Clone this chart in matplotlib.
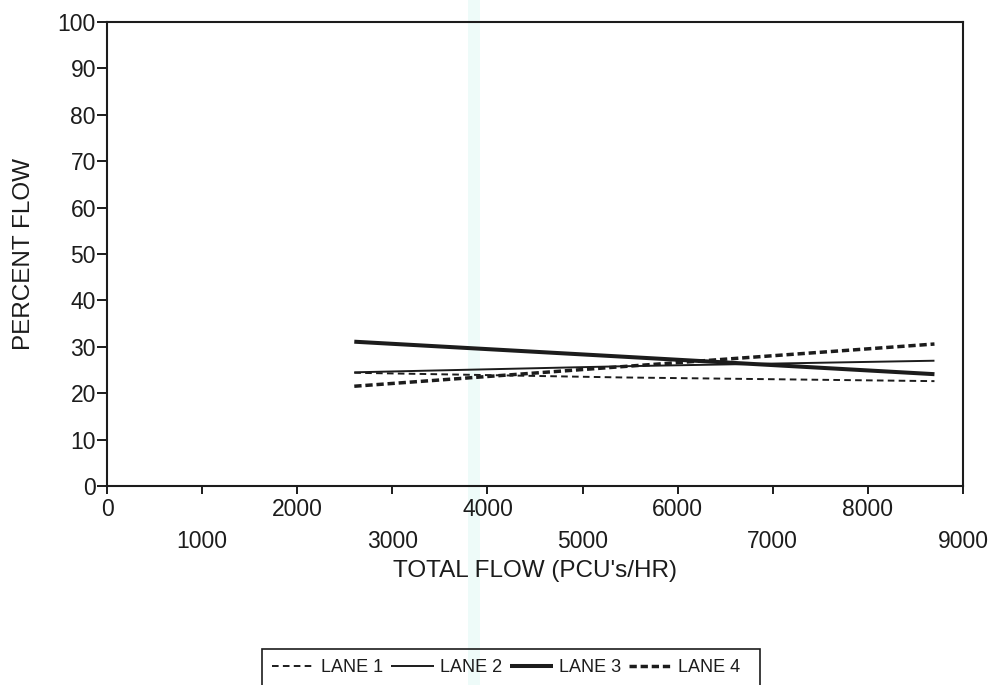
import matplotlib
matplotlib.use("Agg")
import matplotlib.pyplot as plt
from matplotlib.patches import Rectangle

plt.rcParams['font.family'] = ['Liberation Sans', 'DejaVu Sans']

# Total flow (PCU's/hr) at which each lane share is read
total_flow = [2600, 5400, 8700]

# Percent of total flow carried by each lane
lane1 = [24.4, 23.4, 22.6]
lane2 = [24.5, 25.8, 27.0]
lane3 = [31.1, 27.9, 24.1]
lane4 = [21.5, 25.7, 30.6]

lane_names = ["LANE 1", "LANE 2", "LANE 3", "LANE 4"]

x_major = [0, 2000, 4000, 6000, 8000]
x_minor = [1000, 3000, 5000, 7000, 9000]
y_ticks = [0, 10, 20, 30, 40, 50, 60, 70, 80, 90, 100]

W, H = 994, 685
fig = plt.figure(figsize=(W / 100, H / 100), dpi=100)
fig.patch.set_facecolor("white")

# faint cyan streak across the sheet
fig.patches.append(Rectangle((468 / W, 0), 12 / W, 1, transform=fig.transFigure,
                             facecolor="#eefbf9", edgecolor="none", zorder=-5))

ax = fig.add_axes([107 / W, 1 - 486 / H, (963 - 107) / W, (486 - 22) / H])
ax.set_facecolor("none")

ink = "#1c1c1c"
styles = [
    dict(color=ink, lw=1.4, dashes=(3.4, 2.2)),
    dict(color=ink, lw=1.4, linestyle="-"),
    dict(color=ink, lw=2.9, linestyle="-"),
    dict(color=ink, lw=2.5, dashes=(2.1, 1.1)),
]
series = [lane1, lane2, lane3, lane4]
handles = []
for vals, st, name in zip(series, styles, lane_names):
    ln, = ax.plot(total_flow, vals, label=name, solid_capstyle="butt",
                  dash_capstyle="butt", **st)
    handles.append(ln)

ax.set_xlim(0, 9000)
ax.set_ylim(0, 100)

for sp in ax.spines.values():
    sp.set_linewidth(1.5)
    sp.set_color(ink)

ax.set_xticks(x_major)
ax.set_xticklabels([str(v) for v in x_major])
ax.set_xticks(x_minor, minor=True)
ax.set_xticklabels([str(v) for v in x_minor], minor=True)
ax.tick_params(axis="x", which="major", direction="out", length=5.5, width=1.4,
               pad=3, labelsize=16.5, colors=ink)
ax.tick_params(axis="x", which="minor", direction="out", length=5.5, width=1.4,
               pad=26, labelsize=16.5, colors=ink)
ax.set_yticks(y_ticks)
ax.set_yticklabels([str(v) for v in y_ticks])
ax.tick_params(axis="y", which="major", direction="out", length=7, width=1.4,
               pad=1, labelsize=16.5, colors=ink)

ax.set_xlabel("TOTAL FLOW (PCU's/HR)", fontsize=17.5, color=ink, labelpad=5)
ax.set_ylabel("PERCENT FLOW", fontsize=17.5, color=ink, labelpad=16)

# legend strip along the bottom edge
leg = fig.legend(handles=handles, labels=lane_names, loc="upper center",
                 bbox_to_anchor=(506 / W, 1 - 648 / H), ncol=4, frameon=False,
                 fontsize=13, handlelength=2.4, handletextpad=0.35,
                 columnspacing=0.4, borderpad=0.1)
for t in leg.get_texts():
    t.set_color(ink)
fig.patches.append(Rectangle((262 / W, -0.05), (760 - 262) / W, 0.05 + 36 / H,
                             transform=fig.transFigure, facecolor="none",
                             edgecolor=ink, lw=1.2))

fig.savefig("out.png", dpi=100)
